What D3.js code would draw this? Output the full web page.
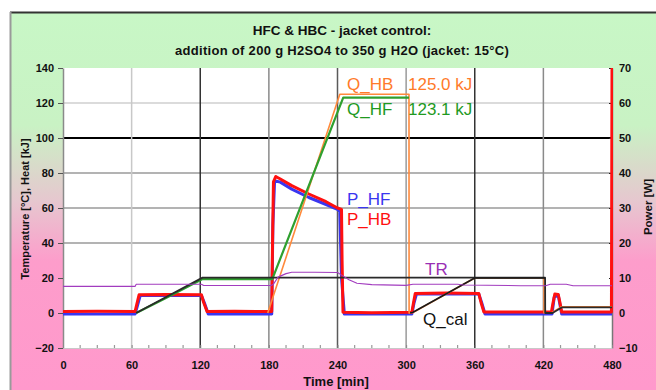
<!DOCTYPE html>
<html>
<head>
<meta charset="utf-8">
<script src="https://cdn.jsdelivr.net/npm/d3@7"></script>
<style>
  html, body { margin: 0; padding: 0; background: #fff; }
  svg { display: block; font-family: "Liberation Sans", Arial, Helvetica, sans-serif; }
</style>
</head>
<body>
<svg id="chart" width="656" height="390"></svg>
<script>
// ---- axis ticks ----
const timeTicks  = [0, 60, 120, 180, 240, 300, 360, 420, 480];
const leftTicks  = [-20, 0, 20, 40, 60, 80, 100, 120, 140];
const rightTicks = [-10, 0, 10, 20, 30, 40, 50, 60, 70];
const hGrid = [40, 60, 80, 100, 120];
const vGrid = [60, 120, 180, 240, 300, 360, 420];

// ---- power series [time (min), power (W)] ----
const P_HB = [
  [0, 0.4], [30, 0.5], [63, 0.4], [64.5, 2.5], [66.5, 5.2], [90, 5.3], [121, 5.2], [123, 3], [126, 0.4],
  [150, 0.5], [182.5, 0.4], [183.2, 20], [184, 37.5], [186, 39], [190, 38.3], [200, 36.4], [215, 34],
  [230, 31.8], [240, 30], [243.5, 29.6], [244, 15], [244.8, 0.2], [270, 0.1], [305, 0.2], [306.5, 3],
  [308, 5.6], [335, 5.7], [363.5, 5.6], [365.5, 3], [368, 0.3], [400, 0.3], [427, 0.3], [428.5, 3],
  [430, 5.4], [433, 5.3], [434.5, 3], [436, 0.3], [460, 0.3], [479.5, 0.3], [480, 70]
];
const P_HF = [
  [0, -0.3], [63, -0.3], [65, 2], [67.5, 5.0], [121, 5.0], [123.5, 3], [127, -0.3], [182.5, -0.3],
  [183.5, 25], [185, 37.8], [190, 37.4], [200, 35.4], [215, 33], [230, 31], [240, 29.6], [242, 29],
  [243.5, 10], [246, -0.3], [305, -0.3], [307, 3], [309, 5.4], [363.5, 5.4], [366, 3], [369, -0.3],
  [427.5, -0.3], [429.5, 4.5], [433, 5.1], [436, -0.3], [480, -0.3]
];

// ---- heat series [time (min), heat (kJ)] ----
const Q_HB = [
  [179, 0], [242, 125.0], [302.5, 125.0], [302.6, 0], [306, 0.3], [360, 20], [420.5, 20], [420.6, 0],
  [427, 0], [436, 3.6], [480, 3.6]
];
const Q_HF = [
  [64, 0], [90, 8.6], [122, 19.4], [183, 19.4], [245, 123.1], [302.5, 123.1]
];
const Q_cal = [
  [64, 0], [122, 20.2], [421.5, 20.2], [421.6, 0], [428, 0], [436, 3.2], [480, 3.2]
];
const Q_cal2 = [
  [303.5, 0], [306, 0.4], [360, 20], [421.5, 20]
];

// ---- reactor temperature [time (min), °C] ----
const TR = [
  [0, 15.2], [63, 15.2], [64, 16.4], [121, 16.4], [123, 15.7], [182, 15.7], [184, 16.5], [188, 20.5],
  [195, 22.5], [200, 23.3], [220, 23.3], [240, 23.1], [244, 21.5], [250, 19], [257, 17], [270, 16.2],
  [300, 15.8], [306, 16.4], [345, 16.4], [350, 16.0], [400, 15.6], [422, 15.6], [426, 16.4], [440, 16.4],
  [446, 15.6], [480, 15.6]
];

// ---- scales ----
const X0 = 63, X1 = 612, Y0 = 68, Y1 = 348;
const x  = d3.scaleLinear().domain([0, 480]).range([X0, X1]);
const yL = d3.scaleLinear().domain([-20, 140]).range([Y1, Y0]);
const yR = d3.scaleLinear().domain([-10, 70]).range([Y1, Y0]);

const svg = d3.select("#chart");

// background panel: mint at the top fading into pink
const defs = svg.append("defs");
const grad = defs.append("linearGradient").attr("id", "bg").attr("x1", 0).attr("y1", 0).attr("x2", 0).attr("y2", 1);
grad.append("stop").attr("offset", "0%").attr("stop-color", "#c8f7c6");
grad.append("stop").attr("offset", "30%").attr("stop-color", "#c9f2c4");
grad.append("stop").attr("offset", "50%").attr("stop-color", "#e6c7cf");
grad.append("stop").attr("offset", "66%").attr("stop-color", "#fd9dcb");
grad.append("stop").attr("offset", "100%").attr("stop-color", "#ff99cc");
defs.append("clipPath").attr("id", "plotclip")
  .append("rect").attr("x", X0).attr("y", Y0 - 1).attr("width", X1 - X0 + 1).attr("height", Y1 - Y0 + 2);

svg.append("rect").attr("x", 10).attr("y", 12).attr("width", 646).attr("height", 378).attr("fill", "url(#bg)");
svg.append("line").attr("x1", 10).attr("x2", 656).attr("y1", 12.5).attr("y2", 12.5).attr("stroke", "#333").attr("stroke-width", 2);
svg.append("line").attr("x1", 10.5).attr("x2", 10.5).attr("y1", 12).attr("y2", 390).attr("stroke", "#9a9a9a").attr("stroke-width", 2);

// plot area
svg.append("rect").attr("x", X0).attr("y", Y0).attr("width", X1 - X0).attr("height", Y1 - Y0).attr("fill", "#fff");

// titles
svg.append("text").attr("x", 342).attr("y", 35).attr("text-anchor", "middle")
  .attr("font-size", 13.5).attr("font-weight", "bold").attr("fill", "#111")
  .text("HFC & HBC - jacket control:");
svg.append("text").attr("x", 342).attr("y", 55).attr("text-anchor", "middle")
  .attr("font-size", 13).attr("font-weight", "bold").attr("letter-spacing", 0.3).attr("fill", "#111")
  .text("addition of 200 g H2SO4 to 350 g H2O (jacket: 15°C)");

// grid
const hColor = { 40: "#9a9a9a", 60: "#9a9a9a", 80: "#9a9a9a", 100: "#000", 120: "#cfcfcf" };
svg.append("g").selectAll("line").data(hGrid).join("line")
  .attr("x1", X0).attr("x2", X1).attr("y1", d => yL(d)).attr("y2", d => yL(d))
  .attr("stroke", d => hColor[d]).attr("stroke-width", d => d === 100 ? 2 : 1.5);
const vColor = { 60: "#c8c8c8", 120: "#333", 180: "#8a8a8a", 240: "#5a5a5a", 300: "#9a9a9a", 360: "#333", 420: "#8a8a8a" };
svg.append("g").selectAll("line").data(vGrid).join("line")
  .attr("x1", d => x(d)).attr("x2", d => x(d)).attr("y1", Y0).attr("y2", Y1)
  .attr("stroke", d => vColor[d]).attr("stroke-width", 1.5);

// axes
const tickFont = g => g.selectAll("text").attr("font-size", 11).attr("font-weight", "bold").attr("fill", "#111")
  .attr("font-family", "'Liberation Sans', Arial, sans-serif");

svg.append("g").attr("transform", `translate(${X0},0)`)
  .call(d3.axisLeft(yL).tickValues(leftTicks).tickSizeInner(5).tickSizeOuter(0).tickPadding(4))
  .call(g => g.select(".domain").attr("stroke", "#8a8a8a").attr("stroke-width", 1.5))
  .call(g => g.selectAll(".tick line").attr("stroke", "#555"))
  .call(tickFont);

svg.append("g").attr("transform", `translate(${X1},0)`)
  .call(d3.axisRight(yR).tickValues(rightTicks).tickSizeInner(-3).tickSizeOuter(0).tickPadding(7))
  .call(g => g.select(".domain").attr("stroke", "#777").attr("stroke-width", 1.5))
  .call(g => g.selectAll(".tick line").attr("stroke", "#222"))
  .call(tickFont);

svg.append("g").attr("transform", `translate(0,${Y1})`)
  .call(d3.axisBottom(x).tickValues(timeTicks).tickSizeInner(-3).tickSizeOuter(0).tickPadding(13))
  .call(g => g.select(".domain").attr("stroke", "#c8c8c8"))
  .call(g => g.selectAll(".tick line").attr("stroke", "#888"))
  .call(tickFont);

// minor ticks along the time axis
svg.append("g").selectAll("line").data(d3.range(15, 480, 15).filter(t => t % 60 !== 0)).join("line")
  .attr("x1", d => x(d)).attr("x2", d => x(d)).attr("y1", Y1 - 3).attr("y2", Y1)
  .attr("stroke", "#999").attr("stroke-width", 1.2);

// axis titles
svg.append("text").attr("x", 336).attr("y", 386).attr("text-anchor", "middle")
  .attr("font-size", 13).attr("font-weight", "bold").attr("fill", "#111").text("Time [min]");
svg.append("text").attr("transform", "translate(29,209) rotate(-90)").attr("text-anchor", "middle")
  .attr("font-size", 11).attr("font-weight", "bold").attr("fill", "#111").text("Temperature [°C], Heat [kJ]");
svg.append("text").attr("transform", "translate(652,207) rotate(-90)").attr("text-anchor", "middle")
  .attr("font-size", 11.5).attr("font-weight", "bold").attr("fill", "#111").text("Power [W]");

// series
const lineL = d3.line().x(d => x(d[0])).y(d => yL(d[1]));
const lineR = d3.line().x(d => x(d[0])).y(d => yR(d[1]));
const plot = svg.append("g").attr("clip-path", "url(#plotclip)");
const draw = (data, gen, color, width) => plot.append("path").datum(data)
  .attr("d", gen).attr("fill", "none").attr("stroke", color).attr("stroke-width", width)
  .attr("stroke-linejoin", "round");

draw(P_HF, lineR, "#3a36f0", 3);
draw(P_HB, lineR, "#ff1010", 3);
draw(Q_HB, lineL, "#ff8a3c", 1.6);
draw(Q_HF, lineL, "#2fa02f", 2.2);
draw(Q_cal, lineL, "#2a2a2a", 1.8);
draw(Q_cal2, lineL, "#1a1a1a", 1.6);
draw(TR, lineL, "#a23cbf", 1.1);

// series labels
const labels = [
  { text: "Q_HB", x: 347, y: 90, color: "#ff7a2a" },
  { text: "125.0 kJ", x: 408, y: 90, color: "#ff7a2a" },
  { text: "Q_HF", x: 347, y: 115, color: "#1f9a1f" },
  { text: "123.1 kJ", x: 408, y: 115, color: "#1f9a1f" },
  { text: "P_HF", x: 347, y: 205, color: "#3a36f0" },
  { text: "P_HB", x: 347, y: 225, color: "#ff1010" },
  { text: "TR", x: 425, y: 275, color: "#9a2fb4" },
  { text: "Q_cal", x: 423, y: 325, color: "#111" }
];
svg.append("g").selectAll("text").data(labels).join("text")
  .attr("x", d => d.x).attr("y", d => d.y).attr("fill", d => d.color)
  .attr("font-size", 17).text(d => d.text);
</script>
</body>
</html>
